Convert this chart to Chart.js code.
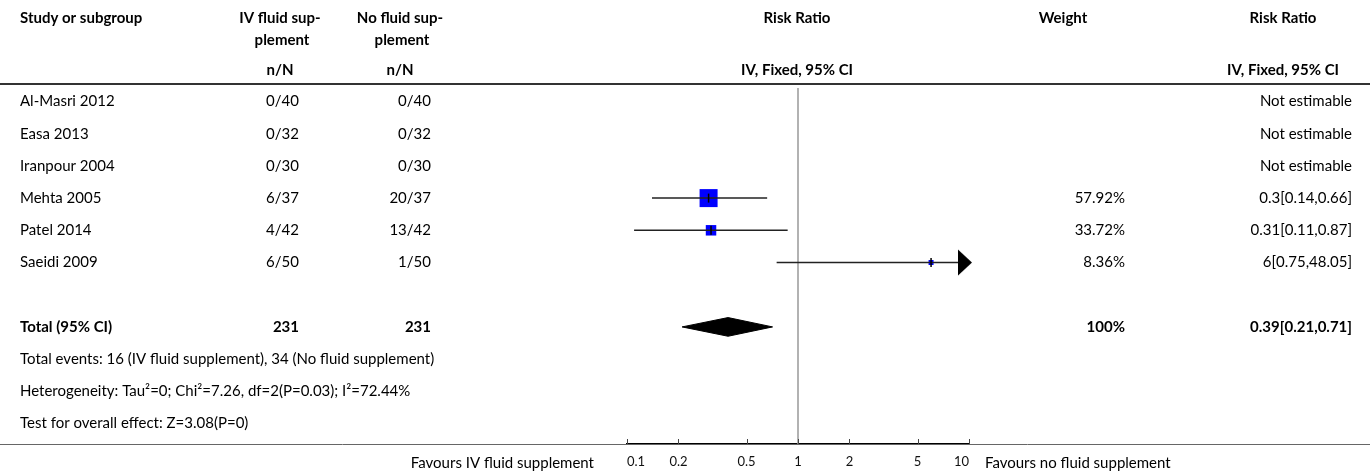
<!DOCTYPE html>
<html>
<head>
<meta charset="utf-8">
<script src="https://cdn.jsdelivr.net/npm/chart.js@4"></script>
<style>
  body { margin: 0; background: #fff; }
  canvas { display: block; }
</style>
</head>
<body>
<canvas id="forest" width="1370" height="474"></canvas>
<script>
// study rows
var studies = ["Al-Masri 2012", "Easa 2013", "Iranpour 2004", "Mehta 2005", "Patel 2014", "Saeidi 2009"];
var eventsIV = [0, 0, 0, 6, 4, 6];
var totalIV = [40, 32, 30, 37, 42, 50];
var eventsNo = [0, 0, 0, 20, 13, 1];
var totalNo = [40, 32, 30, 37, 42, 50];
var rr = [null, null, null, 0.3, 0.31, 6];
var rrLow = [null, null, null, 0.14, 0.11, 0.75];
var rrHigh = [null, null, null, 0.66, 0.87, 48.05];
var weights = [null, null, null, 57.92, 33.72, 8.36];

// pooled result
var pooled = { rr: 0.39, low: 0.21, high: 0.71, nIV: 231, nNo: 231, weight: 100 };
var footnotes = [
  "Total events: 16 (IV fluid supplement), 34 (No fluid supplement)",
  "Heterogeneity: Tau\u00b2=0; Chi\u00b2=7.26, df=2(P=0.03); I\u00b2=72.44%",
  "Test for overall effect: Z=3.08(P=0)"
];
var tickValues = [0.1, 0.2, 0.5, 1, 2, 5, 10];

var FONT = "Lato";
var FS = 15;
var TOTAL_ROW = 7;
var xMin = 0.1, xMax = 10;

function fmtPct(w) { return w + "%"; }
function fmtCI(m, l, h) { return m + "[" + l + "," + h + "]"; }

// arrow used when a CI runs past the axis
var arrow = document.createElement("canvas");
arrow.width = 30; arrow.height = 27;
(function() {
  var c = arrow.getContext("2d");
  c.fillStyle = "#000";
  c.beginPath();
  c.moveTo(4, 0.5); c.lineTo(18, 13.5); c.lineTo(4, 26.5); c.closePath();
  c.fill();
})();

var datasets = [];

// CI whiskers
rr.forEach(function(v, i) {
  if (v === null) return;
  datasets.push({
    data: [{ x: rrLow[i], y: i }, { x: Math.min(rrHigh[i], xMax), y: i }],
    borderColor: "#222", borderWidth: 1.5, pointRadius: 0, order: 2, clip: false
  });
  if (rrHigh[i] > xMax) {
    datasets.push({
      data: [{ x: xMax, y: i }], showLine: false, pointStyle: arrow,
      pointRadius: 10, order: 1, clip: false
    });
  }
});

// weight squares
datasets.push({
  data: rr.map(function(v, i) { return v === null ? null : { x: v, y: i }; }).filter(Boolean),
  showLine: false, pointStyle: "rect",
  pointRadius: weights.filter(function(w) { return w !== null; }).map(function(w) {
    return Math.max(5, 18 * w / 57.92) / Math.SQRT2;
  }),
  backgroundColor: "#0000ff", borderColor: "#0000ff", borderWidth: 0, order: 3, clip: false
});

// crosshair on estimates
datasets.push({
  data: rr.map(function(v, i) { return v === null ? null : { x: v, y: i }; }).filter(Boolean),
  showLine: false, pointStyle: "line", rotation: 90, pointRadius: 4.5,
  borderColor: "#000", borderWidth: 1.5, order: 0, clip: false
});

// pooled diamond (two halves)
var dh = 0.29;
[-dh, dh].forEach(function(d) {
  datasets.push({
    data: [{ x: pooled.low, y: TOTAL_ROW }, { x: pooled.rr, y: TOTAL_ROW + d }, { x: pooled.high, y: TOTAL_ROW }],
    borderColor: "#000", borderWidth: 1, backgroundColor: "#000",
    fill: { value: TOTAL_ROW }, pointRadius: 0, tension: 0, order: 4
  });
});

var tablePlugin = {
  id: "table",
  beforeDatasetsDraw: function(chart) {
    var ctx = chart.ctx, x = chart.scales.x, a = chart.chartArea;
    var px = x.getPixelForValue(1);
    ctx.save();
    ctx.strokeStyle = "#999";
    ctx.lineWidth = 1.5;
    ctx.beginPath(); ctx.moveTo(px, a.top); ctx.lineTo(px, a.bottom); ctx.stroke();
    ctx.restore();
  },
  afterDraw: function(chart) {
    var ctx = chart.ctx, x = chart.scales.x, y = chart.scales.y, a = chart.chartArea;
    ctx.save();
    function txt(s, px, py, align, bold) {
      ctx.font = (bold ? "bold " : "") + FS + "px " + FONT;
      ctx.textAlign = align;
      ctx.textBaseline = "middle";
      ctx.fillStyle = "#000";
      ctx.fillText(s, px, py);
    }
    // header
    txt("Study or subgroup", 20, 18, "left", true);
    txt("IV fluid sup-", 280, 18, "center", true);
    txt("plement", 282, 40, "center", true);
    txt("No fluid sup-", 400, 18, "center", true);
    txt("plement", 402, 40, "center", true);
    txt("Risk Ratio", 797, 18, "center", true);
    txt("Weight", 1063, 18, "center", true);
    txt("Risk Ratio", 1283, 18, "center", true);
    txt("n/N", 280, 70, "center", true);
    txt("n/N", 400, 70, "center", true);
    txt("IV, Fixed, 95% CI", 797, 70, "center", true);
    txt("IV, Fixed, 95% CI", 1283, 70, "center", true);
    ctx.strokeStyle = "#333";
    ctx.lineWidth = 2;
    ctx.beginPath(); ctx.moveTo(0, 84); ctx.lineTo(1370, 84); ctx.stroke();

    // study rows
    studies.forEach(function(s, i) {
      var py = y.getPixelForValue(i);
      txt(s, 20, py, "left");
      txt(eventsIV[i] + "/" + totalIV[i], 299, py, "right");
      txt(eventsNo[i] + "/" + totalNo[i], 431, py, "right");
      if (rr[i] === null) {
        txt("Not estimable", 1352, py, "right");
      } else {
        txt(fmtPct(weights[i]), 1125, py, "right");
        txt(fmtCI(rr[i], rrLow[i], rrHigh[i]), 1352, py, "right");
      }
    });
    var ty = y.getPixelForValue(TOTAL_ROW);
    txt("Total (95% CI)", 20, ty, "left", true);
    txt(String(pooled.nIV), 299, ty, "right", true);
    txt(String(pooled.nNo), 431, ty, "right", true);
    txt(fmtPct(pooled.weight), 1125, ty, "right", true);
    txt(fmtCI(pooled.rr, pooled.low, pooled.high), 1352, ty, "right", true);
    footnotes.forEach(function(f, k) {
      txt(f, 20, y.getPixelForValue(TOTAL_ROW + 1 + k), "left");
    });

    // bottom rule and upward tick marks
    ctx.strokeStyle = "#666";
    ctx.lineWidth = 1;
    ctx.beginPath(); ctx.moveTo(0, a.bottom + 0.5); ctx.lineTo(1370, a.bottom + 0.5); ctx.stroke();
    ctx.strokeStyle = "#444";
    x.ticks.forEach(function(t) {
      var p = Math.round(x.getPixelForValue(t.value)) + 0.5;
      ctx.beginPath(); ctx.moveTo(p, a.bottom); ctx.lineTo(p, a.bottom - 5); ctx.stroke();
    });
    txt("Favours IV fluid supplement", 594, 463, "right");
    txt("Favours no fluid supplement", 985, 463, "left");
    ctx.restore();
  }
};

function draw() {
  new Chart(document.getElementById("forest"), {
    type: "line",
    data: { datasets: datasets },
    plugins: [tablePlugin],
    options: {
      responsive: false,
      animation: false,
      devicePixelRatio: 1,
      layout: { padding: { left: 627, right: 401, top: 88, bottom: 0 } },
      plugins: { legend: { display: false }, tooltip: { enabled: false } },
      scales: {
        x: {
          type: "logarithmic", min: xMin, max: xMax,
          afterBuildTicks: function(s) { s.ticks = tickValues.map(function(v) { return { value: v }; }); },
          afterFit: function(s) { s.height = 30; },
          grid: { display: false, drawTicks: false },
          border: { display: true, color: "#000", width: 2 },
          ticks: {
            autoSkip: false, maxRotation: 0, padding: 10, color: "#111", align: "inner",
            font: { family: FONT, size: 13 },
            callback: function(v) { return String(v); }
          }
        },
        y: {
          type: "linear", reverse: true, min: -0.419, max: 10.636, display: false
        }
      }
    }
  });
}
if (document.fonts && document.fonts.load) {
  document.fonts.load(FS + "px " + FONT).then(draw, draw);
} else { draw(); }
</script>
</body>
</html>
